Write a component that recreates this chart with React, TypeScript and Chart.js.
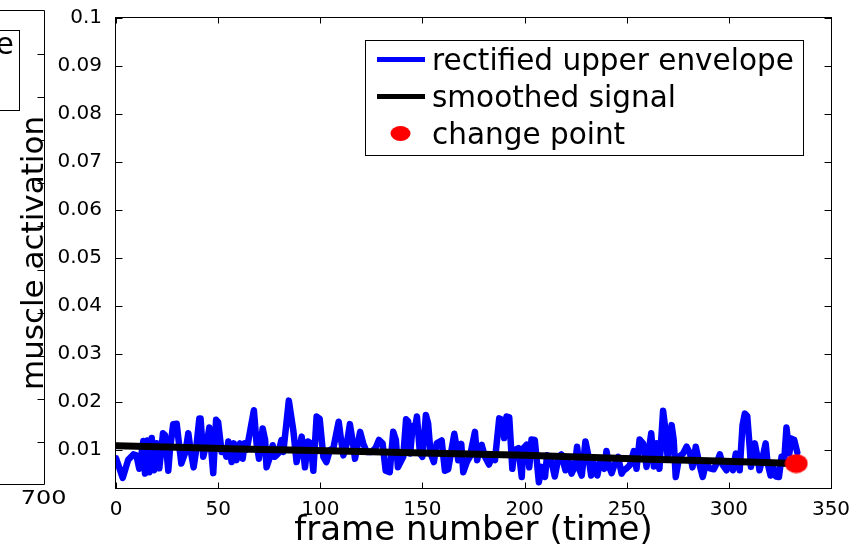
import React, { useEffect, useRef } from "react";
import { Chart, registerables } from "chart.js";
Chart.register(...registerables);

const FONT = "'DejaVu Sans', sans-serif";

// rectified upper envelope (frame, value)
const envelopeFrames = [
  0, 3.3, 6, 8.5, 10, 11.4, 13.4, 14.2, 15.3, 16.3,
  17.5, 18.6, 19.9, 21.2, 23, 24, 25.6, 26.4, 28, 29.7,
  31, 32, 34, 35.4, 36.5, 38, 39, 40.8, 41.4, 42.7,
  44.7, 45.7, 47.6, 49, 50, 51.7, 53.4, 54, 55, 56.6,
  57.7, 59, 60.7, 62, 63, 64, 67.5, 68.8, 70, 71.8,
  73, 73.7, 75.4, 76.7, 77.8, 79.4, 81, 81.9, 84.6, 86.8,
  88.4, 90.9, 92.5, 94, 95.3, 96.6, 98.2, 99.7, 101.5, 103,
  104.7, 106.4, 109, 110, 111.3, 113, 114.5, 116, 117, 119.5,
  121, 122.7, 125, 127, 128.7, 130.5, 132, 134, 135.7, 137,
  138, 140.6, 142, 143, 144, 145.2, 146.2, 147.3, 148.8, 150,
  151.7, 152.8, 154, 155.6, 157, 159.4, 161, 162.6, 165.6, 166.7,
  167.5, 169, 170, 171.7, 173.2, 175.7, 176.8, 178, 179, 180.6,
  182.6, 184, 185.5, 187.6, 189, 190, 191.2, 192.5, 194, 195,
  197, 198.6, 199.4, 201, 202.3, 203.4, 205, 207, 208.3, 210,
  211, 213, 214.8, 216.5, 218, 220, 221.5, 223, 224.6, 225.7,
  227, 228, 229.8, 231, 232.6, 234, 235.6, 237, 239, 240.1,
  241.4, 242.6, 244, 245.8, 247.5, 248.6, 250, 251.6, 253.5, 254.8,
  256.3, 258, 259.7, 262, 263.3, 264.6, 266, 267.8, 269, 270,
  272, 273, 274, 275.7, 277.6, 279.3, 281, 282.2, 283.8, 285.5,
  287.2, 288.8, 290.7, 292.6, 294, 295.6, 297, 298.8, 300.5, 302,
  303.4, 304.6, 305.3, 306.7, 307.8, 309, 310.3, 310.8, 312.7, 314.3,
  315, 316.6, 318, 319, 320.4, 321.7, 323, 324.5, 325.8, 327,
  328.2, 329.6, 330.6, 332, 333.5,
];
const envelopeValues = [
  0.0083, 0.0042, 0.008, 0.0091, 0.0089, 0.0061, 0.0119, 0.0051, 0.012, 0.0054,
  0.0125, 0.0058, 0.0114, 0.0062, 0.0135, 0.0131, 0.0057, 0.01, 0.0154, 0.0155,
  0.0107, 0.0072, 0.0096, 0.0135, 0.01, 0.0064, 0.0093, 0.0166, 0.0166, 0.0086,
  0.0121, 0.0147, 0.0052, 0.0163, 0.0158, 0.0096, 0.0101, 0.0086, 0.0118, 0.0075,
  0.0114, 0.0079, 0.0114, 0.0082, 0.0114, 0.0101, 0.0183, 0.0114, 0.0082, 0.0145,
  0.0121, 0.0064, 0.0086, 0.011, 0.0086, 0.0093, 0.0121, 0.0096, 0.0203, 0.0141,
  0.0075, 0.0128, 0.0064, 0.0118, 0.0114, 0.0057, 0.017, 0.0165, 0.0086, 0.0075,
  0.01, 0.0104, 0.0159, 0.0127, 0.0089, 0.0114, 0.0154, 0.0114, 0.0082, 0.0138,
  0.0114, 0.0096, 0.0096, 0.0104, 0.0121, 0.0114, 0.0057, 0.0054, 0.0138, 0.0121,
  0.0064, 0.0086, 0.0164, 0.016, 0.0093, 0.015, 0.0141, 0.017, 0.0093, 0.0086,
  0.0173, 0.0155, 0.0093, 0.0075, 0.0114, 0.012, 0.0057, 0.006, 0.0134, 0.0107,
  0.0079, 0.0113, 0.0054, 0.0075, 0.0086, 0.0138, 0.0079, 0.0104, 0.0111, 0.0086,
  0.007, 0.0086, 0.0079, 0.0166, 0.0163, 0.0125, 0.017, 0.0168, 0.0061, 0.01,
  0.0104, 0.0044, 0.0104, 0.0111, 0.0064, 0.0122, 0.0121, 0.0033, 0.0065, 0.0044,
  0.0089, 0.0079, 0.0045, 0.0082, 0.0091, 0.0058, 0.0079, 0.0051, 0.0065, 0.0107,
  0.0058, 0.0047, 0.0118, 0.0093, 0.0047, 0.0072, 0.0047, 0.0075, 0.0061, 0.0098,
  0.0065, 0.0052, 0.0069, 0.0086, 0.0051, 0.0058, 0.0062, 0.0069, 0.0098, 0.0061,
  0.0122, 0.0114, 0.0065, 0.0135, 0.0066, 0.0114, 0.0061, 0.0182, 0.0141, 0.0086,
  0.0152, 0.0121, 0.0044, 0.0086, 0.0093, 0.0107, 0.0093, 0.0064, 0.0107, 0.0072,
  0.0044, 0.0072, 0.0062, 0.006, 0.0072, 0.0091, 0.0069, 0.0058, 0.0072, 0.0058,
  0.0093, 0.0086, 0.0058, 0.0152, 0.0176, 0.0171, 0.01, 0.0065, 0.0114, 0.0079,
  0.0058, 0.0086, 0.0114, 0.0072, 0.0047, 0.0065, 0.0045, 0.0044, 0.0086, 0.0072,
  0.0147, 0.0093, 0.0124, 0.0121, 0.0095,
];

// smoothed signal
const smoothFrames = [0, 30, 60, 85, 120, 150, 173, 200, 230, 261, 290, 310, 333];
const smoothValues = [0.0109, 0.0106, 0.0102, 0.01, 0.0097, 0.0094, 0.0092, 0.0089, 0.0085, 0.0081, 0.0078, 0.0075, 0.0072];

// change point
const changeFrames = [333];
const changeValues = [0.0072];

const seriesLabels = ["rectified upper envelope", "smoothed signal", "change point"];
const xTickValues = [0, 50, 100, 150, 200, 250, 300, 350];
const yTickValues = [0.01, 0.02, 0.03, 0.04, 0.05, 0.06, 0.07, 0.08, 0.09, 0.1];
const yTickLabels = ["0.01", "0.02", "0.03", "0.04", "0.05", "0.06", "0.07", "0.08", "0.09", "0.1"];
const xTitle = "frame number (time)";
const yTitle = "muscle activation";
// fragment of the neighbouring subplot on the left
const neighbourTickLabel = "700";
const neighbourLegendText = "e";
const neighbourTickCount = 10;

const decorPlugin = {
  id: "matlabDecor",
  beforeDatasetsDraw(chart: any) {
    const { ctx, chartArea: a, scales } = chart;
    const x = scales.x, y = scales.y;
    const L = Math.round(a.left) - 0.5, R = Math.round(a.right) + 0.5;
    const T = Math.round(a.top) - 0.5, B = Math.round(a.bottom) + 0.5;
    ctx.save();
    ctx.strokeStyle = "#000";
    ctx.lineWidth = 1;
    ctx.beginPath();
    for (const v of xTickValues) {
      const px = Math.round(x.getPixelForValue(v)) + 0.5;
      ctx.moveTo(px, B); ctx.lineTo(px, B - 6);
      ctx.moveTo(px, T); ctx.lineTo(px, T + 6);
    }
    for (const v of yTickValues) {
      const py = Math.round(y.getPixelForValue(v)) + 0.5;
      ctx.moveTo(L, py); ctx.lineTo(L + 7, py);
      ctx.moveTo(R, py); ctx.lineTo(R - 7, py);
    }
    ctx.stroke();
    ctx.restore();
  },
  afterDatasetsDraw(chart: any) {
    const { ctx, chartArea: a } = chart;
    ctx.save();
    ctx.strokeStyle = "#000";
    ctx.lineWidth = 1;
    const L = Math.round(a.left) - 0.5, R = Math.round(a.right) + 0.5;
    const T = Math.round(a.top) - 0.5, B = Math.round(a.bottom) + 0.5;
    ctx.strokeRect(L, T, R - L, B - T);
    ctx.restore();
  },
  afterDraw(chart: any) {
    const { ctx } = chart;
    ctx.save();
    // legend box
    const bx = 365.5, by = 40.5, bw = 438, bh = 115;
    ctx.fillStyle = "#fff";
    ctx.fillRect(bx, by, bw, bh);
    ctx.strokeStyle = "#000";
    ctx.lineWidth = 1;
    ctx.strokeRect(bx, by, bw, bh);
    ctx.font = `29.5px ${FONT}`;
    ctx.textBaseline = "alphabetic";
    ctx.textAlign = "left";
    chart.data.datasets.forEach((ds: any, i: number) => {
      const ry = 59.5 + 37 * i;
      if (ds.showLine === false) {
        ctx.fillStyle = ds.backgroundColor;
        ctx.beginPath();
        ctx.ellipse(400.5, ry, 10, 7.5, 0, 0, Math.PI * 2);
        ctx.fill();
      } else {
        ctx.strokeStyle = ds.borderColor;
        ctx.lineWidth = 5;
        ctx.beginPath();
        ctx.moveTo(377, ry);
        ctx.lineTo(425, ry);
        ctx.stroke();
      }
      ctx.fillStyle = "#000";
      ctx.fillText(ds.label, 432, ry + 10.5);
    });

    // neighbouring subplot fragment
    const nRight = 44.5, nTop = 10.5, nBottom = 484.5;
    ctx.strokeStyle = "#000";
    ctx.lineWidth = 1;
    ctx.beginPath();
    ctx.moveTo(0, nTop); ctx.lineTo(nRight, nTop); ctx.lineTo(nRight, nBottom); ctx.lineTo(0, nBottom);
    const step = (441.9 - 54) / (neighbourTickCount - 1);
    for (let k = 0; k < neighbourTickCount; k++) {
      const ty = Math.round(54 + step * k) + 0.5;
      ctx.moveTo(nRight, ty); ctx.lineTo(nRight - 7, ty);
    }
    ctx.stroke();
    ctx.strokeRect(-1.5, 30.5, 21, 80);
    ctx.fillStyle = "#000";
    ctx.font = `29.5px ${FONT}`;
    ctx.textAlign = "right";
    ctx.fillText(neighbourLegendText, 14, 53.5);
    ctx.save();
    ctx.translate(43.7, 499);
    ctx.scale(1.2, 1);
    ctx.font = `20px ${FONT}`;
    ctx.textAlign = "center";
    ctx.textBaseline = "middle";
    ctx.fillText(neighbourTickLabel, 0, 0);
    ctx.restore();
    ctx.restore();
  },
};

export default function App() {
  const ref = useRef<HTMLCanvasElement | null>(null);
  useEffect(() => {
    const canvas = ref.current!;
    const dot = document.createElement("canvas");
    dot.width = 24;
    dot.height = 20;
    const dctx = dot.getContext("2d")!;
    dctx.fillStyle = "#ff0000";
    dctx.beginPath();
    dctx.ellipse(12, 10, 11.4, 9.4, 0, 0, Math.PI * 2);
    dctx.fill();

    const chart = new Chart(canvas, {
      type: "line",
      data: {
        datasets: [
          {
            label: seriesLabels[0],
            data: envelopeFrames.map((f, i) => ({ x: f, y: envelopeValues[i] })),
            borderColor: "#0000ff",
            backgroundColor: "#0000ff",
            borderWidth: 6.5,
            pointRadius: 0,
            tension: 0,
            borderJoinStyle: "round",
            borderCapStyle: "round",
            order: 2,
          },
          {
            label: seriesLabels[1],
            data: smoothFrames.map((f, i) => ({ x: f, y: smoothValues[i] })),
            borderColor: "#000000",
            backgroundColor: "#000000",
            borderWidth: 7,
            pointRadius: 0,
            tension: 0,
            borderJoinStyle: "round",
            borderCapStyle: "round",
            order: 1,
          },
          {
            label: seriesLabels[2],
            data: changeFrames.map((f, i) => ({ x: f, y: changeValues[i] })),
            showLine: false,
            borderColor: "#ff0000",
            backgroundColor: "#ff0000",
            pointStyle: dot as any,
            pointRadius: 11,
            order: 0,
          } as any,
        ],
      },
      options: {
        animation: false,
        responsive: false,
        devicePixelRatio: 1,
        events: [],
        layout: { padding: { left: 0, top: 17, right: 27, bottom: 0 } },
        plugins: { legend: { display: false }, tooltip: { enabled: false } },
        scales: {
          x: {
            type: "linear",
            min: 0,
            max: 350,
            grid: { display: false },
            border: { display: false },
            afterBuildTicks: (s: any) => {
              s.ticks = xTickValues.map((v) => ({ value: v }));
            },
            afterFit: (s: any) => {
              s.height = 60;
            },
            ticks: {
              autoSkip: false,
              maxRotation: 0,
              padding: 2,
              color: "#000",
              font: { family: FONT, size: 20 },
              callback: (v: any) => String(v),
            },
            title: {
              display: true,
              text: xTitle,
              color: "#000",
              font: { family: FONT, size: 34, lineHeight: 1 },
              padding: { top: 0, bottom: 0 },
            },
          },
          y: {
            type: "linear",
            min: 0.0021,
            max: 0.1,
            grid: { display: false },
            border: { display: false },
            afterBuildTicks: (s: any) => {
              s.ticks = yTickValues.map((v) => ({ value: v }));
            },
            afterFit: (s: any) => {
              s.width = 116;
            },
            ticks: {
              autoSkip: false,
              padding: 6,
              color: "#000",
              font: { family: FONT, size: 20 },
              callback: (_v: any, i: number) => yTickLabels[i],
            },
            title: {
              display: true,
              text: yTitle,
              color: "#000",
              font: { family: FONT, size: 31, lineHeight: 1 },
              padding: { top: 19, bottom: 0 },
            },
          },
        },
      },
      plugins: [decorPlugin],
    } as any);
    return () => chart.destroy();
  }, []);
  return (
    <div style={{ position: "absolute", left: 0, top: 0, width: 858, height: 548, background: "#fff" }}>
      <canvas ref={ref} width={858} height={548} style={{ display: "block", width: 858, height: 548 }} />
    </div>
  );
}
